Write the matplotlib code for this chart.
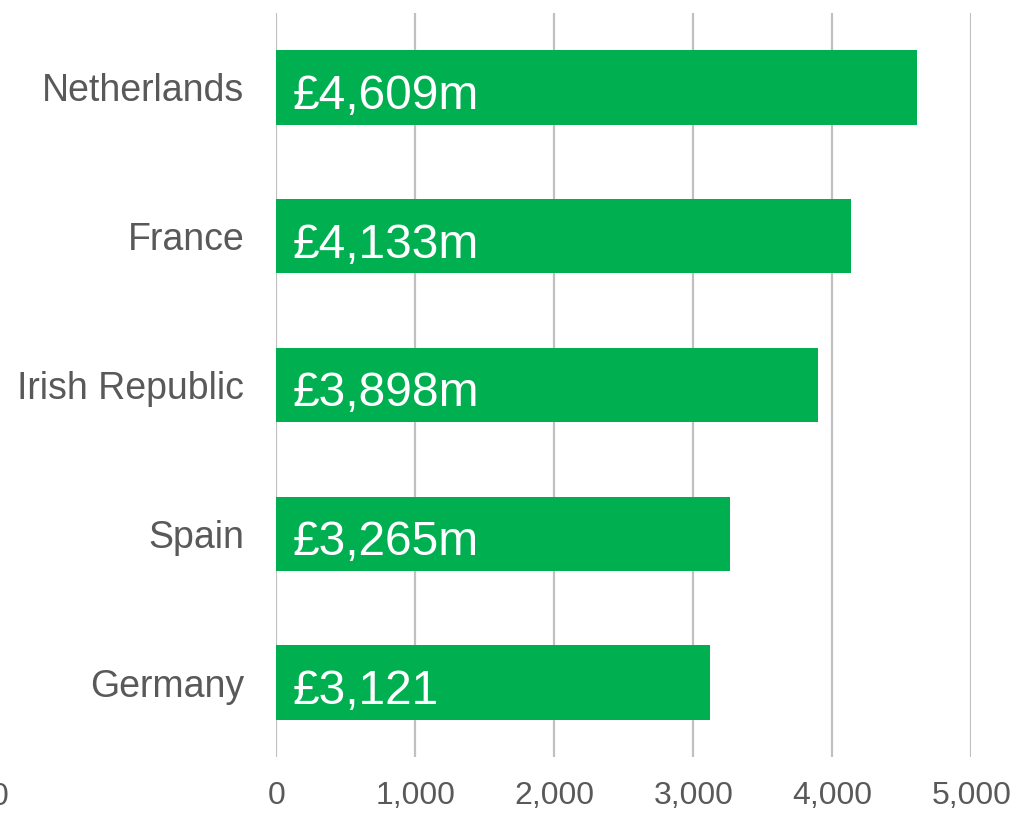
import matplotlib
matplotlib.use("Agg")
import matplotlib.pyplot as plt

countries = ["Netherlands", "France", "Irish Republic", "Spain", "Germany"]
values = [4609, 4133, 3898, 3265, 3121]
value_labels = ["£4,609m", "£4,133m", "£3,898m", "£3,265m", "£3,121"]
x_ticks = [0, 1000, 2000, 3000, 4000, 5000]
x_tick_labels = ["0", "1,000", "2,000", "3,000", "4,000", "5,000"]

plt.rcParams["font.family"] = ["Liberation Sans", "DejaVu Sans"]

GREEN = "#00AF50"
TEXT = "#595959"
GRID = "#C0C0C0"

fig = plt.figure(figsize=(10.26, 8.15), dpi=100)
ax = fig.add_axes([276.3 / 1026, 58 / 815, (971.3 - 276.3) / 1026, 744 / 815])

pos = list(range(len(countries)))
ax.barh(pos, values, height=0.5, color=GREEN, zorder=3)
for p, lab in zip(pos, value_labels):
    ax.text(120, p + 0.06, lab, color="white", fontsize=34.5,
            va="center", ha="left", zorder=4)

ax.set_xlim(0, 5000)
ax.set_ylim(len(countries) - 0.5, -0.5)
ax.set_yticks(pos)
ax.set_yticklabels(countries)
ax.set_xticks(x_ticks)
ax.set_xticklabels(x_tick_labels)
ax.tick_params(axis="y", length=0, pad=23, labelsize=27, labelcolor=TEXT)
ax.tick_params(axis="x", length=0, pad=17, labelsize=23, labelcolor=TEXT)
ax.grid(axis="x", color=GRID, linewidth=1.6, zorder=0)
for side in ["top", "right", "bottom", "left"]:
    ax.spines[side].set_visible(False)

# stray tick label at the far left edge of the canvas
fig.text(0, 1 - 797 / 815, "0", ha="center", va="center",
         fontsize=23, color=TEXT)

fig.savefig("out.png", dpi=100)
